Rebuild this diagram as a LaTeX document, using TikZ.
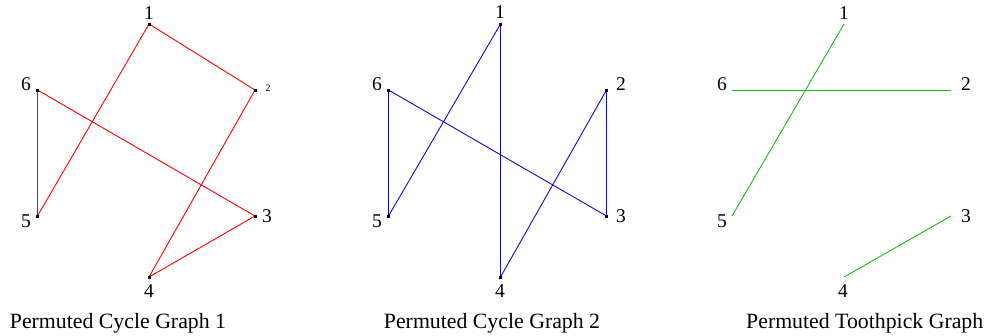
\documentclass[tikz,border=0pt]{standalone}
\usepackage{fontspec}
\setmainfont{Liberation Serif}
\definecolor{gred}{RGB}{255,0,0}
\definecolor{gblue}{RGB}{10,10,200}
\definecolor{ggreen}{RGB}{20,190,20}
\tikzset{
  edge/.style={line width=0.9pt},
  vdot/.style={fill=black,inner sep=0pt,minimum size=3pt,draw=none},
  lbl/.style={font=\fontsize{19.5}{19.5}\selectfont,inner sep=0pt},
  smalllbl/.style={font=\fontsize{10}{10}\selectfont,inner sep=0pt},
  ttl/.style={font=\fontsize{21.8}{21.8}\selectfont,inner sep=0pt,anchor=base}
}
\begin{document}
\begin{tikzpicture}[x=1pt,y=-1pt]
\useasboundingbox (0,0) rectangle (984,335);
% ---------- Graph 1 ----------
\coordinate (a1) at (149,24);
\coordinate (a2) at (255,90);
\coordinate (a3) at (255,216);
\coordinate (a4) at (149,277);
\coordinate (a5) at (37.5,216);
\coordinate (a6) at (37.5,90);
\draw[edge,gred] (a1) -- (a2) -- (a4) -- (a3) -- (a6) -- (a5) -- (a1);
\foreach \i in {1,...,6} \node[vdot] at (a\i) {};
\node[lbl] (la1) at (149,13) {1};
\node[smalllbl] (la2) at (268,88) {2};
\node[lbl] (la3) at (267,216) {3};
\node[lbl] (la4) at (149,291) {4};
\node[lbl] (la5) at (26,221) {5};
\node[lbl] (la6) at (26,84) {6};
\node[ttl] (t1) at (118,328) {Permuted Cycle Graph 1};
% ---------- Graph 2 ----------
\coordinate (b1) at (500.5,24);
\coordinate (b2) at (606.5,90);
\coordinate (b3) at (606.5,216);
\coordinate (b4) at (500.5,277);
\coordinate (b5) at (388.5,216);
\coordinate (b6) at (388.5,90);
\draw[edge,gblue] (b1) -- (b4) -- (b2) -- (b3) -- (b6) -- (b5) -- (b1);
\foreach \i in {1,...,6} \node[vdot] at (b\i) {};
\node[lbl] (lb1) at (500,12) {1};
\node[lbl] (lb2) at (621,84) {2};
\node[lbl] (lb3) at (621,216) {3};
\node[lbl] (lb4) at (500,291) {4};
\node[lbl] (lb5) at (377,221) {5};
\node[lbl] (lb6) at (377,84) {6};
\node[ttl] (t2) at (492,328) {Permuted Cycle Graph 2};
% ---------- Graph 3 ----------
\coordinate (c1) at (844,24);
\coordinate (c2) at (951,90.5);
\coordinate (c3) at (951,216);
\coordinate (c4) at (844,277);
\coordinate (c5) at (732,216);
\coordinate (c6) at (732,90.5);
\draw[edge,ggreen] (c1) -- (c5);
\draw[edge,ggreen] (c6) -- (c2);
\draw[edge,ggreen] (c3) -- (c4);
\node[lbl] (lc1) at (844,13) {1};
\node[lbl] (lc2) at (966,84) {2};
\node[lbl] (lc3) at (966,216) {3};
\node[lbl] (lc4) at (843,291) {4};
\node[lbl] (lc5) at (722,221) {5};
\node[lbl] (lc6) at (722,84) {6};
\node[ttl,anchor=base west] (t3) at (746,328) {Permuted Toothpick Graph};
\end{tikzpicture}
\end{document}
